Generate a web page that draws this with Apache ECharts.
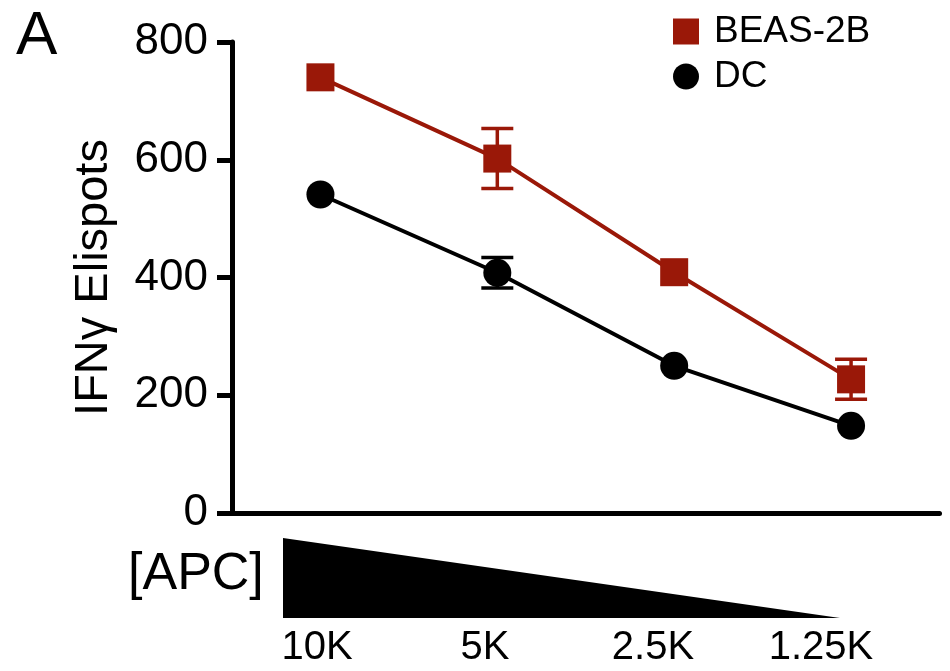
<!DOCTYPE html>
<html>
<head>
<meta charset="utf-8">
<script src="https://cdn.jsdelivr.net/npm/echarts@6/dist/echarts.min.js"></script>
<style>
  html, body { margin: 0; padding: 0; background: #fff; }
  #chart { width: 950px; height: 671px; }
</style>
</head>
<body>
<div id="chart"></div>
<script>
// APC dose categories
const categories = ['10K', '5K', '2.5K', '1.25K'];
const apcLabels = ['10K', '5K', '2.5K', '1.25K'];
const yTicks = [0, 200, 400, 600, 800];

// IFNy elispot means and error (SEM); 0 = bar hidden behind the marker
const beasMean = [740, 602, 409, 227];
const beasErr = [0, 51, 0, 34];
const dcMean = [541, 408, 250, 148];
const dcErr = [0, 26, 0, 0];

const RED = '#9a1808';
const FONT = '"Liberation Sans", Arial, Helvetica, sans-serif';

function errData(mean, err) {
  return mean.map((m, i) => [i, m - err[i], m + err[i]]);
}

function errRender(color) {
  return function (params, api) {
    if (api.value(2) - api.value(1) <= 0) return null;
    const lo = api.coord([api.value(0), api.value(1)]);
    const hi = api.coord([api.value(0), api.value(2)]);
    const half = 16;
    const style = { stroke: color, lineWidth: 3.5 };
    return {
      type: 'group',
      children: [
        { type: 'line', shape: { x1: hi[0], y1: hi[1], x2: lo[0], y2: lo[1] }, style: style },
        { type: 'line', shape: { x1: hi[0] - half, y1: hi[1], x2: hi[0] + half, y2: hi[1] }, style: style },
        { type: 'line', shape: { x1: lo[0] - half, y1: lo[1], x2: lo[0] + half, y2: lo[1] }, style: style }
      ]
    };
  };
}

const chart = echarts.init(document.getElementById('chart'), null, { renderer: 'canvas' });

chart.setOption({
  backgroundColor: '#fff',
  animation: false,
  textStyle: { fontFamily: FONT, color: '#000' },
  grid: [
    { left: 232, right: 10.5, top: 42, bottom: 158 },
    { left: 317, right: 129, top: 602, height: 20 }
  ],
  legend: {
    orient: 'vertical',
    left: 668,
    top: 8,
    itemWidth: 26,
    itemHeight: 26,
    itemGap: 8,
    textStyle: { fontSize: 37, fontFamily: FONT, color: '#000', padding: [0, 0, 0, 10] },
    data: [
      { name: 'BEAS-2B', icon: 'rect' },
      { name: 'DC', icon: 'circle' }
    ]
  },
  xAxis: [
    {
      type: 'category',
      gridIndex: 0,
      data: categories,
      boundaryGap: true,
      axisLine: { lineStyle: { color: '#000', width: 5 } },
      axisTick: { alignWithLabel: true, length: 17, lineStyle: { color: '#000', width: 5 } },
      axisLabel: { show: false }
    },
    {
      type: 'category',
      gridIndex: 1,
      data: apcLabels,
      boundaryGap: false,
      axisLine: { show: false },
      axisTick: { show: false },
      axisLabel: { fontSize: 40, color: '#000', fontFamily: FONT, margin: 6, interval: 0 }
    }
  ],
  yAxis: [
    {
      type: 'value',
      gridIndex: 0,
      min: yTicks[0],
      max: yTicks[yTicks.length - 1],
      interval: 200,
      name: 'IFNγ Elispots',
      nameLocation: 'middle',
      nameGap: 114,
      nameTextStyle: { fontSize: 47, color: '#000', fontFamily: FONT },
      splitLine: { show: false },
      axisLine: { show: true, lineStyle: { color: '#000', width: 5 } },
      axisTick: { show: true, length: 15, lineStyle: { color: '#000', width: 5 } },
      axisLabel: { fontSize: 44, color: '#000', fontFamily: FONT, margin: 24 }
    },
    {
      type: 'value',
      gridIndex: 1,
      show: false
    }
  ],
  graphic: [
    {
      type: 'text',
      left: 16,
      top: 6,
      style: { text: 'A', fontSize: 62, fontFamily: FONT, fill: '#000' }
    },
    {
      type: 'text',
      left: 128,
      top: 549,
      style: { text: '[APC]', fontSize: 52, fontFamily: FONT, fill: '#000' }
    },
    {
      type: 'polygon',
      shape: { points: [[283, 538], [283, 618], [840, 618]] },
      style: { fill: '#000' }
    }
  ],
  series: [
    {
      type: 'custom',
      name: 'BEAS-2B err',
      xAxisIndex: 0,
      yAxisIndex: 0,
      data: errData(beasMean, beasErr),
      renderItem: errRender(RED),
      z: 1,
      silent: true
    },
    {
      type: 'custom',
      name: 'DC err',
      xAxisIndex: 0,
      yAxisIndex: 0,
      data: errData(dcMean, dcErr),
      renderItem: errRender('#000'),
      z: 1,
      silent: true
    },
    {
      type: 'line',
      name: 'BEAS-2B',
      xAxisIndex: 0,
      yAxisIndex: 0,
      data: beasMean,
      symbol: 'rect',
      symbolSize: 28,
      lineStyle: { color: RED, width: 4 },
      itemStyle: { color: RED },
      z: 3
    },
    {
      type: 'line',
      name: 'DC',
      xAxisIndex: 0,
      yAxisIndex: 0,
      data: dcMean,
      symbol: 'circle',
      symbolSize: 28,
      lineStyle: { color: '#000', width: 4 },
      itemStyle: { color: '#000' },
      z: 3
    }
  ]
});
</script>
</body>
</html>
